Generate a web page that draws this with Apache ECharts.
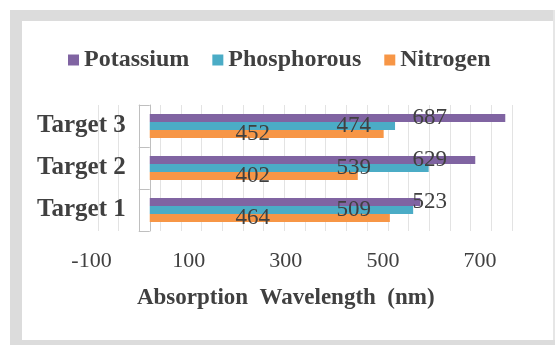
<!DOCTYPE html>
<html>
<head>
<meta charset="utf-8">
<script src="https://cdn.jsdelivr.net/npm/echarts@6/dist/echarts.min.js"></script>
<style>
  html, body { margin: 0; padding: 0; background: #ffffff; }
  #chart { width: 555px; height: 345px; }
</style>
</head>
<body>
<div id="chart"></div>
<script>
const categories = ['Target 1', 'Target 2', 'Target 3'];
const potassium = [523, 629, 687];
const phosphorous = [509, 539, 474];
const nitrogen = [464, 402, 452];
const tickLabels = ['-100', '100', '300', '500', '700'];
const seriesNames = ['Potassium', 'Phosphorous', 'Nitrogen'];
const axisTitle = 'Absorption  Wavelength  (nm)';

const colors = ['#8064a2', '#4bacc6', '#f79646'];
const serif = 'Liberation Serif';
const textColor = '#404040';
const boxColor = '#bfbfbf';

function barSeries(name, data, color, labelX) {
  return {
    name: name,
    type: 'bar',
    xAxisIndex: 0,
    yAxisIndex: 0,
    data: data,
    barWidth: 8,
    barGap: '0%',
    itemStyle: { color: color },
    label: {
      show: true,
      position: [labelX, '50%'],
      align: 'center',
      verticalAlign: 'middle',
      fontFamily: serif,
      fontSize: 23,
      color: textColor
    }
  };
}

const frame = '#dcdcdc';
const option = {
  animation: false,
  backgroundColor: '#ffffff',
  color: colors,
  graphic: [
    { type: 'rect', shape: { x: 10, y: 10, width: 12, height: 335 }, style: { fill: frame }, silent: true },
    { type: 'rect', shape: { x: 10, y: 10, width: 545, height: 11 }, style: { fill: frame }, silent: true },
    { type: 'rect', shape: { x: 553, y: 10, width: 2, height: 335 }, style: { fill: '#e6e6e6' }, silent: true },
    { type: 'rect', shape: { x: 10, y: 340, width: 545, height: 5 }, style: { fill: frame }, silent: true }
  ],
  legend: {
    data: seriesNames,
    left: 63,
    top: 43,
    itemWidth: 11,
    itemHeight: 11,
    itemGap: 23,
    icon: 'rect',
    textStyle: { fontFamily: serif, fontWeight: 'bold', fontSize: 24, color: textColor }
  },
  grid: [
    { left: 98, right: 43, top: 105, bottom: 114, containLabel: false, outerBoundsMode: 'none' },
    { left: 91.5, right: 75, top: 105, bottom: 114, containLabel: false, outerBoundsMode: 'none' }
  ],
  xAxis: [
    { gridIndex: 0, type: 'value', min: -100, max: 700, show: false },
    {
      gridIndex: 1, type: 'category', data: tickLabels, boundaryGap: false,
      axisLine: { show: false }, axisTick: { show: false }, splitLine: { show: false },
      axisLabel: { margin: 19, fontFamily: serif, fontSize: 22, color: textColor },
      name: axisTitle, nameLocation: 'middle', nameGap: 56,
      nameTextStyle: { fontFamily: serif, fontWeight: 'bold', fontSize: 23, color: textColor }
    },
    {
      gridIndex: 0, type: 'value', min: 0, max: 800, interval: 40,
      axisLine: { show: false }, axisTick: { show: false }, axisLabel: { show: false },
      splitLine: { show: true, lineStyle: { color: '#e3e3e3', width: 1 } }
    }
  ],
  yAxis: [
    {
      gridIndex: 0, type: 'category', data: categories, position: 'left', offset: -51.75,
      axisLine: { show: true, onZero: false, lineStyle: { color: boxColor } },
      axisTick: { show: true, length: 11, lineStyle: { color: boxColor } },
      axisLabel: { margin: 24, fontFamily: serif, fontWeight: 'bold', fontSize: 25, color: textColor },
      splitLine: { show: false }
    },
    {
      gridIndex: 0, type: 'category', data: categories, position: 'left', offset: -41,
      axisLine: { show: true, onZero: false, lineStyle: { color: boxColor } },
      axisTick: { show: false }, axisLabel: { show: false }, splitLine: { show: false }
    },
    { gridIndex: 1, type: 'value', show: false }
  ],
  series: [
    barSeries(seriesNames[0], potassium, colors[0], 280),
    barSeries(seriesNames[1], phosphorous, colors[1], 204),
    barSeries(seriesNames[2], nitrogen, colors[2], 103)
  ]
};

const chart = echarts.init(document.getElementById('chart'), null, { renderer: 'canvas' });
chart.setOption(option);
</script>
</body>
</html>
